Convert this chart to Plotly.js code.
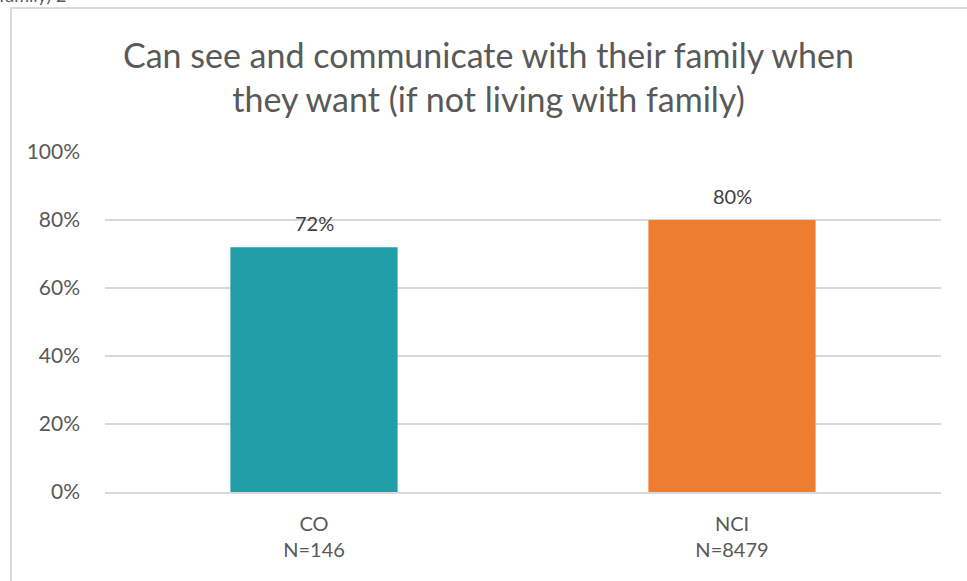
<!DOCTYPE html>
<html>
<head>
<meta charset="utf-8">
<script src="https://cdn.plot.ly/plotly-3.0.1.min.js"></script>
<style>
html,body{margin:0;padding:0;background:#fff;overflow:hidden;}
#wrap{position:relative;width:967px;height:581px;}
#frame{position:absolute;left:10px;top:7px;width:980px;height:600px;border-left:2px solid #d9d9d9;border-top:2px solid #d9d9d9;box-sizing:border-box;}
#chart{position:absolute;left:0;top:0;width:967px;height:581px;}
</style>
</head>
<body>
<div id="wrap"><div id="frame"></div><div id="chart"></div></div>
<script>
const categories = ["CO<br>N=146", "NCI<br>N=8479"];
const values = [0.72, 0.80];
const barColors = ["#219EA8", "#ED7D31"];
const labels = ["72%", "80%"];
const tickVals = [0, 0.2, 0.4, 0.6, 0.8, 1.0];
const tickText = ["0%", "20%", "40%", "60%", "80%", "100%"];
const titleText = "Can see and communicate with their family when<br>they want (if not living with family)";
const clippedText = "family) 2";

const FONT = "Lato, 'Open Sans', sans-serif";
const trace = {
  type: "bar",
  x: categories,
  y: values,
  marker: {color: barColors},
  hoverinfo: "none"
};
const labelAnnotations = categories.map((c, i) => ({
  x: c, y: values[i], xref: "x", yref: "y", text: labels[i],
  showarrow: false, yanchor: "bottom", yshift: 10,
  font: {family: FONT, size: 20, color: "#404040"}
}));
const layout = {
  width: 967, height: 581,
  margin: {l: 105, r: 26, t: 152, b: 89},
  paper_bgcolor: "rgba(0,0,0,0)", plot_bgcolor: "rgba(0,0,0,0)",
  font: {family: FONT, color: "#595959"},
  bargap: 0.6,
  showlegend: false,
  xaxis: {showgrid: false, zeroline: false, showline: true, linecolor: "#d9d9d9", linewidth: 1.5, ticks: "",
          ticklabelstandoff: 13,
          tickfont: {family: FONT, size: 20, color: "#595959"}},
  yaxis: {range: [0, 1.0], tickvals: tickVals, ticktext: tickText,
          showgrid: true, gridcolor: "#d9d9d9", gridwidth: 1.5, zeroline: false, showline: false,
          ticks: "", ticklabelstandoff: 24, tickfont: {family: FONT, size: 21, color: "#595959"}, automargin: false},
  annotations: [
    {text: titleText, xref: "paper", yref: "paper", x: 0.459, y: 1 + (152 - 77) / 340,
     xanchor: "center", yanchor: "middle", showarrow: false,
     font: {family: FONT, size: 34, color: "#595959"}},
    {text: clippedText, xref: "paper", yref: "paper", x: -108 / 836, y: 1 + (152 - 8) / 340,
     xanchor: "left", yanchor: "bottom", showarrow: false,
     font: {family: FONT, size: 18, color: "#595959"}}
  ].concat(labelAnnotations)
};
Plotly.newPlot("chart", [trace], layout, {staticPlot: true});
</script>
</body>
</html>
